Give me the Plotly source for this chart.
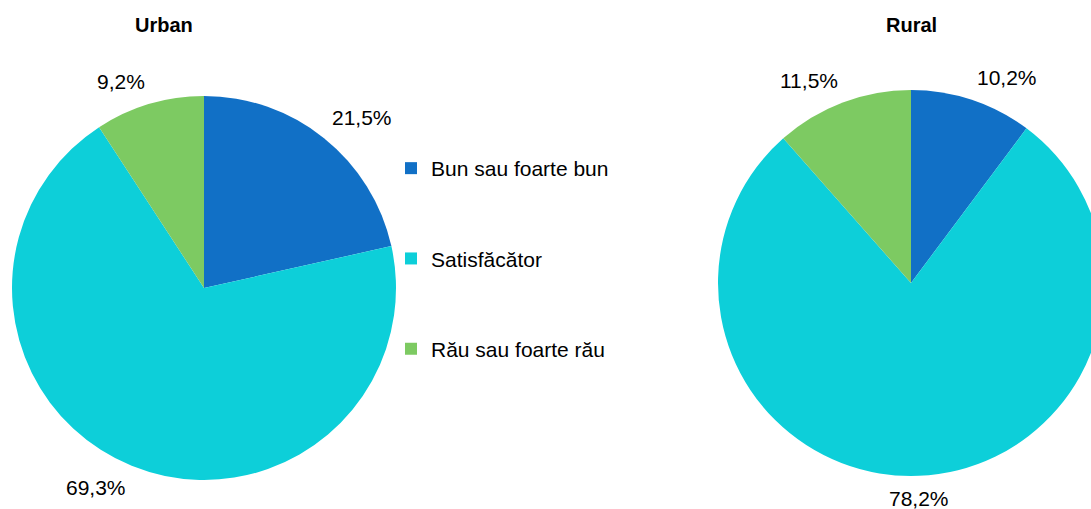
import math
import plotly.graph_objects as go

categories = ["Bun sau foarte bun", "Satisfăcător", "Rău sau foarte rău"]
urban_values = [21.5, 69.3, 9.2]
rural_values = [10.2, 78.2, 11.5]
titles = ["Urban", "Rural"]
colors = ["#1170C6", "#0DCFD9", "#7DCA62"]

W, H = 1105, 509
FONT = "Liberation Sans, Arial, sans-serif"
LABEL_GAP = 9  # px between pie rim and its outside labels

def fmt(v):
    return f"{v:.1f}".replace(".", ",") + "%"

def dom(cx, cy, r):
    return dict(x=[max(0.0, (cx - r) / W), min(1.0, (cx + r) / W)],
                y=[1 - (cy + r) / H, 1 - (cy - r) / H])

pies = [
    (urban_values, titles[0], 204, 288, 192),
    (rural_values, titles[1], 911, 283, 193),
]

fig = go.Figure()
annotations = []
for vals, name, cx, cy, r in pies:
    fig.add_trace(go.Pie(values=vals, labels=categories, sort=False, direction="clockwise",
                         rotation=0, showlegend=False, name=name, domain=dom(cx, cy, r),
                         marker=dict(colors=colors, line=dict(width=0)),
                         textinfo="none", hoverinfo="label+percent"))
    # outside labels at each slice's mid-angle (clockwise from 12 o'clock)
    total = sum(vals)
    cum = 0.0
    for v in vals:
        ang = 2 * math.pi * (cum + v / 2) / total
        cum += v
        s, c = math.sin(ang), math.cos(ang)
        px_ = cx + (r + LABEL_GAP) * s
        py_ = cy - (r + LABEL_GAP) * c
        annotations.append(dict(
            text=fmt(v), x=px_ / W, y=1 - py_ / H, xref="paper", yref="paper",
            showarrow=False, font=dict(size=21, family=FONT, color="#000000"),
            xanchor="left" if s > 0.2 else ("right" if s < -0.2 else "center"),
            yanchor="bottom" if c > 0 else "top"))

for i, (cat, col) in enumerate(zip(categories, colors)):
    fig.add_trace(go.Scatter(x=[None], y=[None], mode="markers", name=cat,
                             legendgroup=f"g{i}",
                             marker=dict(symbol="square", size=11, color=col)))

for t, x in zip(titles, [164, 911]):
    annotations.append(dict(text=f"<b>{t}</b>", x=x / W, y=1 - 25 / H, xref="paper", yref="paper",
                            showarrow=False, font=dict(size=20, family=FONT, color="#000000"),
                            xanchor="center", yanchor="middle"))

fig.update_layout(
    width=W, height=H,
    margin=dict(l=0, r=0, t=0, b=0),
    paper_bgcolor="white", plot_bgcolor="white",
    font=dict(family=FONT, size=21, color="#000000"),
    xaxis=dict(visible=False), yaxis=dict(visible=False),
    showlegend=True,
    legend=dict(x=391 / W, xanchor="left", y=1 - 148 / H, yanchor="top",
                tracegroupgap=60, font=dict(size=21, family=FONT),
                bgcolor="rgba(0,0,0,0)", itemsizing="constant"),
    annotations=annotations,
)

fig.write_html("out.html", config={"displayModeBar": False},
               post_script=("document.documentElement.style.overflow='hidden';"
                            "document.body.style.overflow='hidden';"
                            "document.body.style.margin='0';"))
